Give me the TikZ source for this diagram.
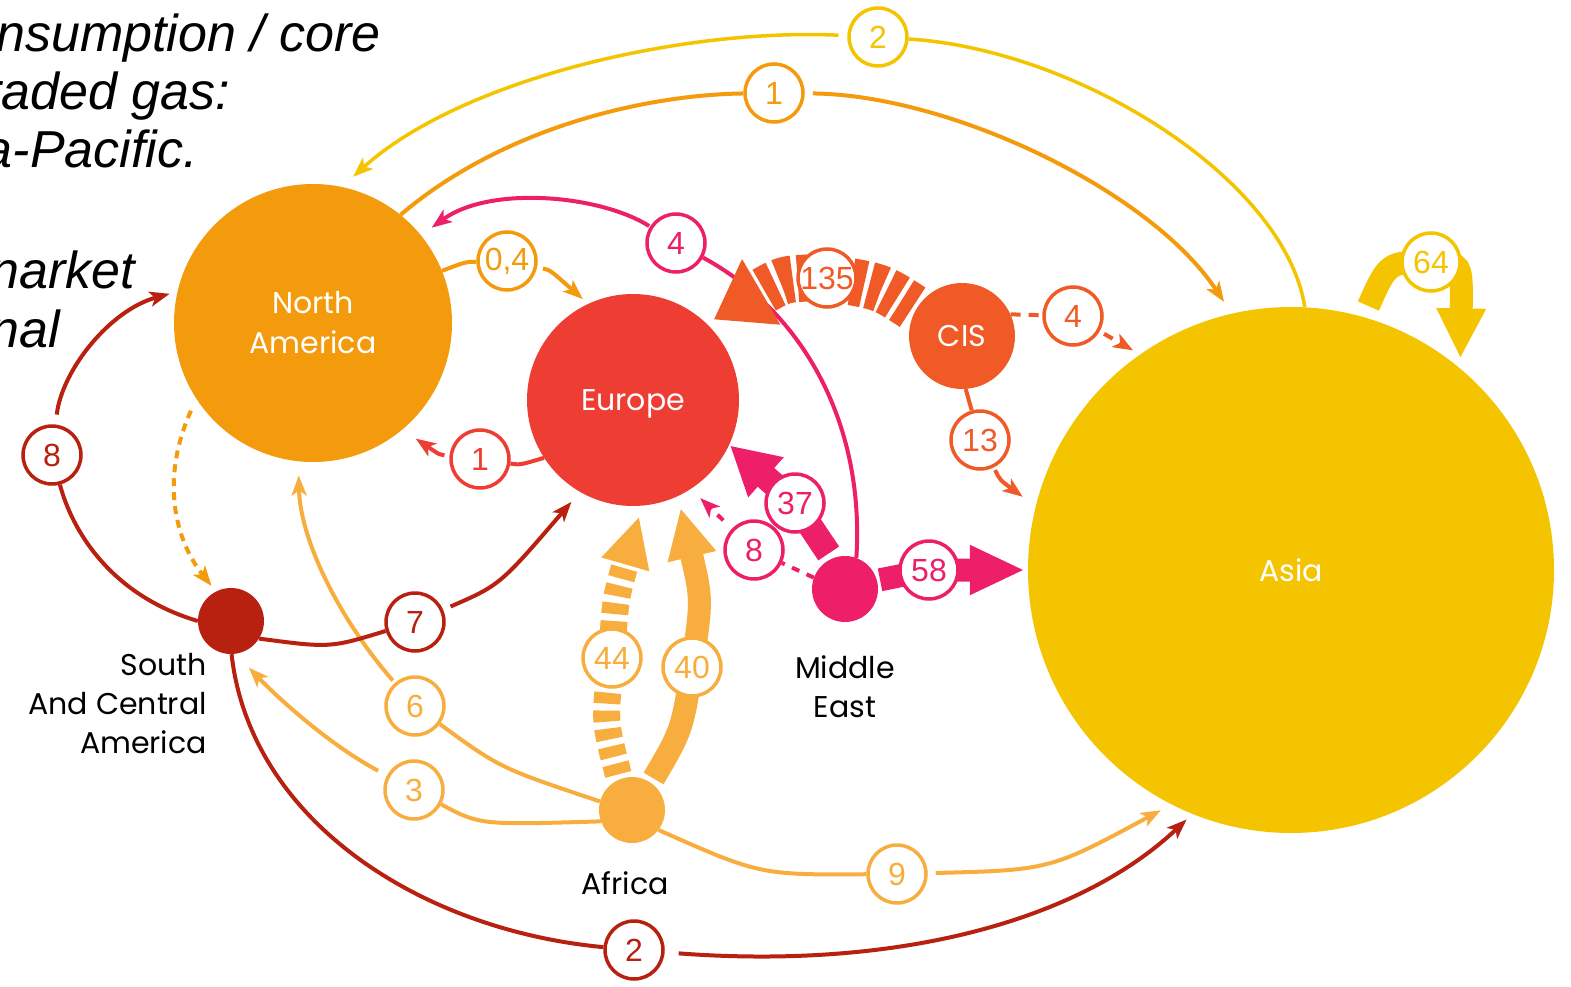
\documentclass[tikz,border=0pt]{standalone}
\usepackage{fontspec}
\setmainfont{Liberation Sans}
\newfontfamily\regfont{Poppins}
\usetikzlibrary{arrows.meta}
\definecolor{nacol}{HTML}{F39B0D}
\definecolor{eucol}{HTML}{EE3D33}
\definecolor{ciscol}{HTML}{F05A27}
\definecolor{ascol}{HTML}{F5C400}
\definecolor{sacol}{HTML}{B8200F}
\definecolor{mecol}{HTML}{EC1F68}
\definecolor{afcol}{HTML}{F8AE3F}
\pgfdeclarelayer{bg}
\pgfsetlayers{bg,main}

\begin{document}
\begin{tikzpicture}[x=1pt, y=-1pt,
  region/.style={
    circle, fill=#1, text=white, inner sep=0pt, align=center,
    font=\regfont\fontsize{30}{40}\selectfont
  },
  tag/.style={font=\regfont\fontsize{30}{39}\selectfont, text=black, inner sep=0pt},
  val/.style={
    circle, draw=#1, fill=white, text=#1, line width=3.5pt,
    minimum size=58pt, inner sep=0pt, font=\fontsize{32}{32}\selectfont
  },
  flow/.style={draw=#1, line width=4pt, -{Stealth[length=20pt,width=15pt,inset=5pt]},
    shorten <=6pt, shorten >=12pt},
  bigflow/.style={draw=#1, line width=25pt, -{Triangle[length=50pt,width=46pt]},
    shorten <=5pt, shorten >=4pt},
  note/.style={font=\itshape\fontsize{52}{58}\selectfont, anchor=base east, inner sep=0pt},
]
\useasboundingbox (0,0) rectangle (1571,987);

% slide text cut off at the left edge
\node[note] (t1) at (381,52) {nsumption / core};
\node[note] (t2) at (230,110) {raded gas:};
\node[note] (t3) at (198,168) {a-Pacific.};
\node[note] (t4) at (135,288) {narket};
\node[note] (t5) at (60,347) {nal};

% regions
\node[region=nacol, minimum size=278pt] (na) at (313,323) {North\\America};
\node[region=eucol, minimum size=212pt, text depth=0pt] (eu) at (633,400) {Europe};
\node[region=ciscol, minimum size=106pt] (cis) at (962,336) {CIS};
\node[region=ascol, minimum size=526pt] (asia) at (1291,570) {Asia};
\node[region=sacol, minimum size=66pt] (sca) at (231,621) {};
\node[region=mecol, minimum size=66pt] (me) at (845,589) {};
\node[region=afcol, minimum size=66pt] (af) at (632,810) {};

\node[tag, align=right, anchor=north east] (scaname) at (207,653) {South\\And Central\\America};
\node[tag, align=center, anchor=north] (mename) at (845,655) {Middle\\East};
\node[tag, anchor=base] (afname) at (625,894) {Africa};

% volumes
\node[val=ascol] (vAsNA) at (878,37) {2};
\node[val=nacol] (vNAAs) at (774,93) {1};
\node[val=mecol] (vMENA) at (676,243) {4};
\node[val=nacol] (vNAEU) at (507,261) {0,4};
\node[val=eucol] (vEUNA) at (480,459) {1};
\node[val=ciscol] (vCISEU) at (827,278) {135};
\node[val=ciscol] (vCISAs) at (1073,316) {4};
\node[val=ciscol] (vCISAs2) at (980,440) {13};
\node[val=mecol] (vMEEU) at (795,503) {37};
\node[val=mecol] (vMEEU2) at (754,550) {8};
\node[val=mecol] (vMEAs) at (929,570) {58};
\node[val=afcol] (vAFEU) at (612,658) {44};
\node[val=afcol] (vAFEU2) at (692,667) {40};
\node[val=afcol] (vAFNA) at (415,706) {6};
\node[val=afcol] (vAFSA) at (414,790) {3};
\node[val=afcol] (vAFAs) at (897,874) {9};
\node[val=sacol] (vSAAs) at (634,950) {2};
\node[val=sacol] (vSAEU) at (415,622) {7};
\node[val=sacol] (vSANA) at (52,455) {8};
\node[val=ascol] (vAsAs) at (1431,262) {64};

\begin{pgfonlayer}{bg}
\draw[flow=ascol, line width=3.5pt, shorten <=9pt, shorten >=15pt]
  (asia.87) .. controls (1285,180) and (1080,50) .. (vAsNA)
  .. controls (680,28) and (460,80) .. (na.78);
\draw[flow=nacol, shorten <=8pt, shorten >=14pt]
  (na.51) .. controls (500,130) and (640,95) .. (vNAAs)
  .. controls (950,95) and (1150,190) .. (asia.103);
\draw[flow=mecol, shorten <=1pt, shorten >=13pt]
  (me.70) .. controls (865,420) and (800,310) .. (vMENA)
  .. controls (600,195) and (490,185) .. (na.39);
\draw[flow=nacol, shorten >=7pt]
  (na.22) .. controls (465,262) .. (vNAEU) .. controls (550,270) .. (eu.115);
\draw[flow=eucol, shorten <=5pt, shorten >=16pt]
  (eu.213) .. controls (520,465) .. (vEUNA) .. controls (440,455) .. (na.310);
\draw[bigflow=ciscol, line width=47pt, dash pattern=on 13pt off 5pt,
  -{Triangle[length=55pt,width=72pt]}, shorten <=4pt, shorten >=8pt]
  (cis.150) .. controls (880,286) .. (vCISEU.center) .. controls (785,278) .. (eu.46);
\draw[flow=ciscol, dash pattern=on 10pt off 8pt, shorten <=5pt, shorten >=8pt]
  (cis.24) -- (vCISAs) -- (asia.125);
\draw[flow=ciscol, shorten <=3pt, shorten >=16pt]
  (cis.274) -- (vCISAs2) .. controls (1000,480) .. (asia.166);
\draw[bigflow=mecol, -{Triangle[length=48pt,width=50pt]}, shorten <=6pt, shorten >=1pt]
  (me.113) -- (vMEEU.center) -- (eu.335);
\draw[flow=mecol, dash pattern=on 8pt off 8pt, shorten <=12pt, shorten >=13pt]
  (me.160) -- (vMEEU2) -- (eu.303);
\draw[bigflow=mecol, line width=23pt, -{Triangle[length=55pt,width=46pt]},
  shorten <=3pt, shorten >=3pt]
  (me.15) -- (vMEAs.center) -- (asia.180);
\draw[bigflow=afcol, line width=27pt, dash pattern=on 11pt off 7pt, shorten >=11pt]
  (af.112) .. controls (604,720) .. (vAFEU.center) .. controls (615,600) .. (eu.275);
\draw[bigflow=afcol, line width=23pt, shorten >=12pt]
  (af.55) .. controls (682,730) .. (vAFEU2.center) .. controls (702,600) .. (eu.295);
\draw[flow=afcol, shorten <=3pt, shorten >=14pt]
  (af.165) .. controls (500,768) .. (vAFNA) .. controls (340,620) and (300,540) .. (na.264);
\draw[flow=afcol, shorten <=10pt, shorten >=19pt]
  (af.200) .. controls (480,825) .. (vAFSA) .. controls (330,745) and (280,700) .. (sca.278);
\draw[flow=afcol, shorten <=8pt, shorten >=12pt]
  (af.323) .. controls (760,875) .. (vAFAs) .. controls (1050,870) .. (asia.243);
\draw[flow=sacol, shorten <=14pt, shorten >=8pt]
  (sca.271) .. controls (250,820) and (420,930) .. (vSAAs)
  .. controls (900,970) and (1080,920) .. (asia.248);
\draw[flow=sacol, shorten <=8pt, shorten >=13pt]
  (sca.328) .. controls (330,648) .. (vSAEU) .. controls (500,585) .. (eu.240);
\draw[flow=sacol, shorten <=10pt, shorten >=8pt]
  (sca.180) .. controls (110,595) and (72,530) .. (vSANA)
  .. controls (62,370) and (110,310) .. (na.167);
\draw[flow=nacol, dash pattern=on 8pt off 6pt, shorten <=13pt, shorten >=7pt]
  (na.213) .. controls (160,480) and (175,540) .. (sca.117);
\draw[bigflow=ascol, line width=23pt, shorten <=12pt, shorten >=10pt]
  (asia.74) .. controls (1388,262) .. (vAsAs.center) .. controls (1462,262) .. (asia.50);
\end{pgfonlayer}
\end{tikzpicture}
\end{document}
